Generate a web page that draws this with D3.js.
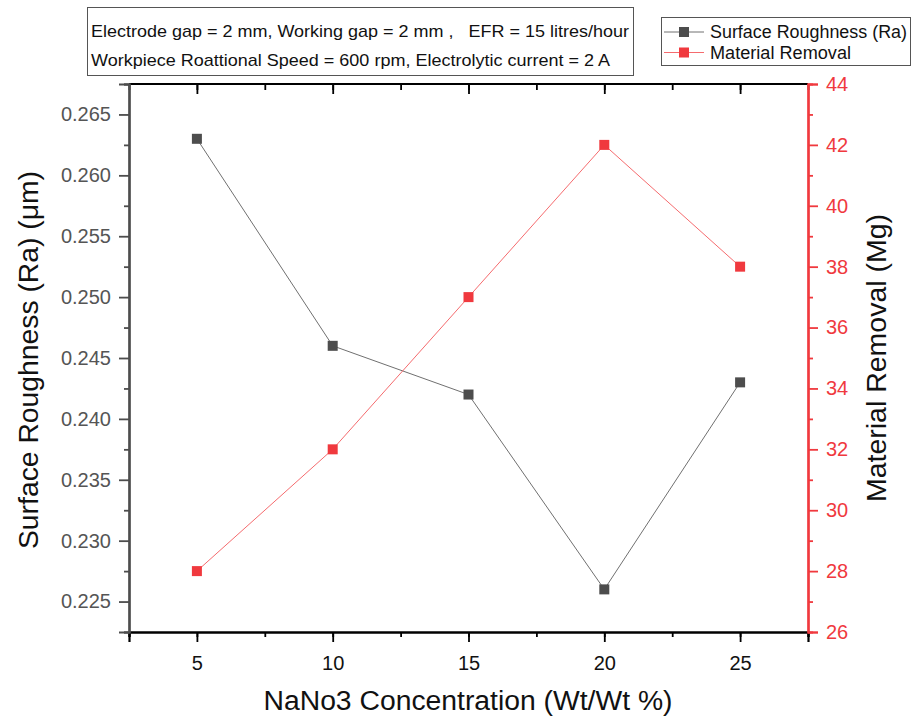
<!DOCTYPE html>
<html><head><meta charset="utf-8">
<script src="https://cdn.jsdelivr.net/npm/d3@7"></script>
<style>body{margin:0;background:#fff}svg{font-family:"Liberation Sans",Arial,sans-serif}</style>
</head><body>
<script>
const concentration = [5, 10, 15, 20, 25];
const surfaceRoughness = [0.263, 0.246, 0.242, 0.226, 0.243];
const materialRemoval = [28, 32, 37, 42, 38];
const xTicks = [5, 10, 15, 20, 25];
const leftTicks = [0.225, 0.230, 0.235, 0.240, 0.245, 0.250, 0.255, 0.260, 0.265];
const rightTicks = [26, 28, 30, 32, 34, 36, 38, 40, 42, 44];
const infoLines = ["Electrode gap = 2 mm, Working gap = 2 mm ,   EFR = 15 litres/hour",
                   "Workpiece Roattional Speed = 600 rpm, Electrolytic current = 2 A"];
const seriesNames = ["Surface Roughness (Ra)", "Material Removal"];

const W = 913, H = 721;
const L = 129, R = 808, T = 84, B = 632;
const grey = "#4d4d4d", red = "#f0393e", redLine = "#f56b6e", greyLine = "#707070";

const svg = d3.select("body").append("svg").attr("width", W).attr("height", H);
const x = d3.scaleLinear().domain([2.5, 27.5]).range([L, R]);
const yL = d3.scaleLinear().domain([0.2225, 0.2675]).range([B, T]);
const yR = d3.scaleLinear().domain([26, 44]).range([B, T]);

const xMinor = d3.range(2.5, 27.6, 2.5);
// bottom axis
const gB = svg.append("g").attr("transform", `translate(0,${B})`);
gB.call(d3.axisBottom(x).tickValues(xMinor).tickSize(5).tickFormat(""));
gB.call(g => g.append("g").call(d3.axisBottom(x).tickValues(xTicks).tickSize(10).tickFormat(d3.format("d"))));
gB.selectAll("path.domain").attr("stroke", "#000").attr("stroke-width", 2.2);
gB.selectAll("line").attr("stroke", "#000").attr("stroke-width", 1.8);
gB.selectAll("text").attr("font-size", 20).attr("fill", "#111").attr("dy", "1.25em");
// top axis (ticks inward)
const gT = svg.append("g").attr("transform", `translate(0,${T})`);
gT.call(d3.axisBottom(x).tickValues(xMinor).tickSize(6).tickFormat(""));
gT.call(g => g.append("g").call(d3.axisBottom(x).tickValues(xTicks).tickSize(10).tickFormat("")));
gT.selectAll("path.domain").remove();
gT.selectAll("line").attr("stroke", "#000").attr("stroke-width", 1.8);
svg.append("line").attr("x1", x(2.5)).attr("x2", x(27.5)).attr("y1", T).attr("y2", T).attr("stroke", "#000").attr("stroke-width", 2.2);

// left axis
const leftMinor = d3.range(0, 10).map(i => 0.2225 + i * 0.005);
const gL = svg.append("g").attr("transform", `translate(${L},0)`);
gL.call(d3.axisLeft(yL).tickValues(leftMinor).tickSize(5).tickFormat(""));
gL.call(g => g.append("g").call(d3.axisLeft(yL).tickValues(leftTicks).tickSize(10).tickFormat(d3.format(".3f"))));
gL.selectAll("path.domain").attr("stroke", grey).attr("stroke-width", 2.2);
gL.selectAll("line").attr("stroke", grey).attr("stroke-width", 1.8);
gL.selectAll("text").attr("font-size", 20).attr("fill", "#555").attr("dx", "-0.25em");

// right axis
const rightMinor = d3.range(27, 44, 2);
const gR = svg.append("g").attr("transform", `translate(${R},0)`);
gR.call(d3.axisRight(yR).tickValues(rightMinor).tickSize(5).tickFormat(""));
gR.call(g => g.append("g").call(d3.axisRight(yR).tickValues(rightTicks).tickSize(10).tickFormat(d3.format("d"))));
gR.selectAll("path.domain").attr("stroke", red).attr("stroke-width", 2.2);
gR.selectAll("line").attr("stroke", red).attr("stroke-width", 1.8);
gR.selectAll("text").attr("font-size", 20).attr("fill", red).attr("dx", "0.25em");

// axis titles
svg.append("text").attr("x", 468).attr("y", 710).attr("text-anchor", "middle")
  .attr("font-size", 27).attr("fill", "#111").attr("textLength", 409).attr("lengthAdjust", "spacingAndGlyphs")
  .text("NaNo3 Concentration (Wt/Wt %)");
svg.append("text").attr("transform", `translate(38,${(T + B) / 2 + 2}) rotate(-90)`).attr("text-anchor", "middle")
  .attr("font-size", 27).attr("fill", "#111").attr("textLength", 378).attr("lengthAdjust", "spacingAndGlyphs")
  .text("Surface Roughness (Ra) (μm)");
svg.append("text").attr("transform", `translate(886,${(T + B) / 2}) rotate(-90)`).attr("text-anchor", "middle")
  .attr("font-size", 27).attr("fill", "#111").attr("textLength", 288).attr("lengthAdjust", "spacingAndGlyphs")
  .text("Material Removal (Mg)");

// series
const ms = 10;
const dataSR = concentration.map((c, i) => [c, surfaceRoughness[i]]);
const dataMR = concentration.map((c, i) => [c, materialRemoval[i]]);
svg.append("path").attr("d", d3.line().x(d => x(d[0])).y(d => yL(d[1]))(dataSR))
  .attr("fill", "none").attr("stroke", greyLine).attr("stroke-width", 1);
svg.append("path").attr("d", d3.line().x(d => x(d[0])).y(d => yR(d[1]))(dataMR))
  .attr("fill", "none").attr("stroke", redLine).attr("stroke-width", 1);
svg.selectAll("rect.sr").data(dataSR).enter().append("rect").attr("class", "sr")
  .attr("x", d => x(d[0]) - ms / 2).attr("y", d => yL(d[1]) - ms / 2).attr("width", ms).attr("height", ms).attr("fill", grey);
svg.selectAll("rect.mr").data(dataMR).enter().append("rect").attr("class", "mr")
  .attr("x", d => x(d[0]) - ms / 2).attr("y", d => yR(d[1]) - ms / 2).attr("width", ms).attr("height", ms).attr("fill", red);

// info box
svg.append("rect").attr("x", 87.5).attr("y", 7.5).attr("width", 546).attr("height", 68)
  .attr("fill", "#fff").attr("stroke", "#555").attr("stroke-width", 1);
const infoLens = [538, 519];
infoLines.forEach((t, i) => svg.append("text").attr("x", 91).attr("y", 37 + i * 29)
  .style("white-space", "pre").attr("font-size", 17).attr("fill", "#111")
  .attr("textLength", infoLens[i]).attr("lengthAdjust", "spacingAndGlyphs").text(t));

// legend
svg.append("rect").attr("x", 661.5).attr("y", 17.5).attr("width", 249).attr("height", 48)
  .attr("fill", "#fff").attr("stroke", "#555").attr("stroke-width", 1);
const legCols = [[greyLine, grey], [redLine, red]];
const legLens = [197, 141];
seriesNames.forEach((n, i) => {
  const cy = 32 + i * 20.5;
  svg.append("line").attr("x1", 664).attr("x2", 704).attr("y1", cy).attr("y2", cy).attr("stroke", legCols[i][0]).attr("stroke-width", 1);
  svg.append("rect").attr("x", 679).attr("y", cy - 5).attr("width", 10).attr("height", 10).attr("fill", legCols[i][1]);
  svg.append("text").attr("x", 710).attr("y", cy + 6).attr("font-size", 17.5).attr("fill", "#111")
    .attr("textLength", legLens[i]).attr("lengthAdjust", "spacingAndGlyphs").text(n);
});
</script>
</body></html>
